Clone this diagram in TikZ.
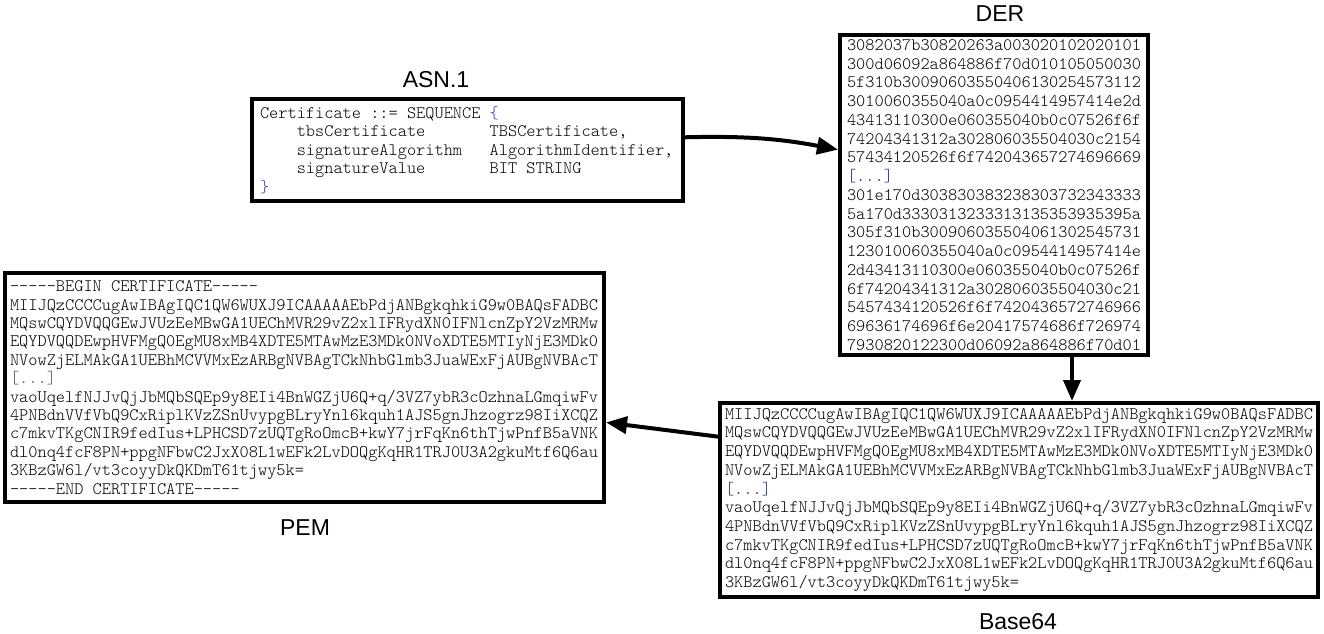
\documentclass[tikz,border=0pt]{standalone}
\usepackage{fontspec}
\setmainfont{Liberation Sans}
\setmonofont{lmmonolt10-regular.otf}
\usetikzlibrary{arrows.meta,calc}
\definecolor{bracecol}{RGB}{50,70,170}
\definecolor{ellcol}{RGB}{40,50,110}
\definecolor{pemell}{RGB}{90,90,100}
\newcommand\fixsp{\spaceskip=\fontdimen2\font\xspaceskip=\fontdimen2\font\relax}
\begin{document}
\begin{tikzpicture}[x=1pt,y=-1pt,
  box/.style={draw, line width=4pt, rectangle, inner ysep=0pt, align=left, anchor=center},
  mono/.style={font=\ttfamily\fontsize{17.5}{#1}\selectfont},
  title/.style={font=\fontsize{23}{26}\selectfont},
  arr/.style={line width=4pt, -{Triangle[length=21pt,width=17pt]}}]
\useasboundingbox (0,0) rectangle (1324,633);

% ASN.1 box
\node[box, mono=18.4, inner xsep=8pt, text width=415pt, minimum height=102pt] (asn) at (467.5,150) {\fixsp
Certificate ::= SEQUENCE {\color{bracecol}\{}\\
\hphantom{0000}tbsCertificate\hphantom{0000000}TBSCertificate,\\
\hphantom{0000}signatureAlgorithm\hphantom{000}AlgorithmIdentifier,\\
\hphantom{0000}signatureValue\hphantom{0000000}BIT STRING\\
{\color{bracecol}\}}};
\node[title] (asnt) at (436,80) {ASN.1};

% DER box
\node[box, mono=18.75, inner xsep=7pt, text width=294pt, minimum height=320pt] (der) at (994,195) {\fixsp
3082037b30820263a003020102020101\\
300d06092a864886f70d010105050030\\
5f310b30090603550406130254573112\\
3010060355040a0c0954414957414e2d\\
43413110300e060355040b0c07526f6f\\
74204341312a302806035504030c2154\\
57434120526f6f742043657274696669\\
{\color{ellcol}[...]}\\
301e170d303830383238303732343333\\
5a170d3330313233313135353935395a\\
305f310b300906035504061302545731\\
123010060355040a0c0954414957414e\\
2d43413110300e060355040b0c07526f\\
6f74204341312a302806035504030c21\\
5457434120526f6f7420436572746966\\
69636174696f6e20417574686f726974\\
7930820122300d06092a864886f70d01};
\node[title] (dert) at (1000,14) {DER};

% Base64 box
\node[box, mono=18.7, inner xsep=5pt, text width=588pt, minimum height=194pt] (b64) at (1019,500) {\fixsp
MIIJQzCCCCugAwIBAgIQC1QW6WUXJ9ICAAAAAEbPdjANBgkqhkiG9w0BAQsFADBC\\
MQswCQYDVQQGEwJVUzEeMBwGA1UEChMVR29vZ2xlIFRydXN0IFNlcnZpY2VzMRMw\\
EQYDVQQDEwpHVFMgQ0EgMU8xMB4XDTE5MTAwMzE3MDk0NVoXDTE5MTIyNjE3MDk0\\
NVowZjELMAkGA1UEBhMCVVMxEzARBgNVBAgTCkNhbGlmb3JuaWExFjAUBgNVBAcT\\
{\color{ellcol}[...]}\\
vaoUqelfNJJvQjJbMQbSQEp9y8EIi4BnWGZjU6Q+q/3VZ7ybR3cOzhnaLGmqiwFv\\
4PNBdnVVfVbQ9CxRiplKVzZSnUvypgBLryYnl6kquh1AJS5gnJhzogrz98IiXCQZ\\
c7mkvTKgCNIR9fedIus+LPHCSD7zUQTgRoOmcB+kwY7jrFqKn6thTjwPnfB5aVNK\\
dl0nq4fcF8PN+ppgNFbwC2JxX08L1wEFk2LvDOQgKqHR1TRJ0U3A2gkuMtf6Q6au\\
3KBzGW6l/vt3coyyDkQKDmT61tjwy5k=};
\node[title] (b64t) at (1018,622) {Base64};

% PEM box
\node[box, mono=18.4, inner xsep=5pt, text width=589pt, minimum height=229pt] (pem) at (304.5,387.5) {\fixsp
-----BEGIN CERTIFICATE-----\\
MIIJQzCCCCugAwIBAgIQC1QW6WUXJ9ICAAAAAEbPdjANBgkqhkiG9w0BAQsFADBC\\
MQswCQYDVQQGEwJVUzEeMBwGA1UEChMVR29vZ2xlIFRydXN0IFNlcnZpY2VzMRMw\\
EQYDVQQDEwpHVFMgQ0EgMU8xMB4XDTE5MTAwMzE3MDk0NVoXDTE5MTIyNjE3MDk0\\
NVowZjELMAkGA1UEBhMCVVMxEzARBgNVBAgTCkNhbGlmb3JuaWExFjAUBgNVBAcT\\
{\color{pemell}[...]}\\
vaoUqelfNJJvQjJbMQbSQEp9y8EIi4BnWGZjU6Q+q/3VZ7ybR3cOzhnaLGmqiwFv\\
4PNBdnVVfVbQ9CxRiplKVzZSnUvypgBLryYnl6kquh1AJS5gnJhzogrz98IiXCQZ\\
c7mkvTKgCNIR9fedIus+LPHCSD7zUQTgRoOmcB+kwY7jrFqKn6thTjwPnfB5aVNK\\
dl0nq4fcF8PN+ppgNFbwC2JxX08L1wEFk2LvDOQgKqHR1TRJ0U3A2gkuMtf6Q6au\\
3KBzGW6l/vt3coyyDkQKDmT61tjwy5k=\\
-----END CERTIFICATE-----};
\node[title] (pemt) at (305,528) {PEM};

% connectors
\coordinate (a1) at ($(asn.north east)!0.38!(asn.south east)$);
\coordinate (a2) at ($(der.north west)!0.36!(der.south west)$);
\draw[arr] (a1) to[bend left=6] (a2);
\coordinate (d1) at ($(der.south west)!0.75!(der.south east)$);
\draw[arr] (d1) -- (d1 |- b64.north);
\coordinate (p1) at ($(b64.north west)!0.18!(b64.south west)$);
\coordinate (p2) at ($(pem.north east)!0.65!(pem.south east)$);
\draw[arr] (p1) -- (p2);
\end{tikzpicture}
\end{document}
